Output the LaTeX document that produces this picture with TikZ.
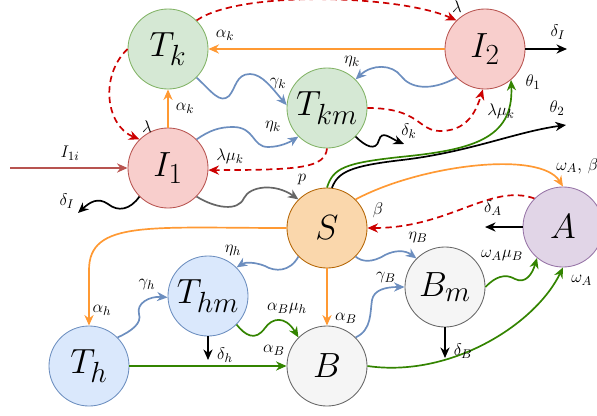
\documentclass[tikz,border=0pt]{standalone}
\usetikzlibrary{arrows.meta}
\definecolor{gFill}{HTML}{D5E8D4}\definecolor{gLine}{HTML}{82B366}
\definecolor{rFill}{HTML}{F8CECC}\definecolor{rLine}{HTML}{B85450}
\definecolor{oFill}{HTML}{FAD7AC}\definecolor{oLine}{HTML}{B46504}
\definecolor{pFill}{HTML}{E1D5E7}\definecolor{pLine}{HTML}{9673A6}
\definecolor{bFill}{HTML}{DAE8FC}\definecolor{bLine}{HTML}{6C8EBF}
\definecolor{wFill}{HTML}{F5F5F5}\definecolor{wLine}{HTML}{666666}
\definecolor{orangeC}{HTML}{FF9933}
\definecolor{blueC}{HTML}{6C8EBF}
\definecolor{greenC}{HTML}{338400}
\definecolor{redC}{HTML}{CC0000}
\definecolor{grayC}{HTML}{666666}
\begin{document}
\begin{tikzpicture}[x=0.025cm, y=-0.025cm,
  st/.style={circle, minimum size=2cm, inner sep=0pt, line width=0.6pt, font=\Huge},
  gN/.style={st, fill=gFill, draw=gLine},
  rN/.style={st, fill=rFill, draw=rLine},
  oN/.style={st, fill=oFill, draw=oLine},
  pN/.style={st, fill=pFill, draw=pLine},
  bN/.style={st, fill=bFill, draw=bLine},
  wN/.style={st, fill=wFill, draw=wLine},
  lbl/.style={font=\fontsize{13}{15}\selectfont, inner sep=0pt},
  ar/.style={-{Stealth[length=7.5pt,width=6.5pt,inset=2.4pt]}, line width=1.2pt},
  oE/.style={ar, draw=orangeC},
  bE/.style={ar, draw=blueC},
  gE/.style={ar, draw=greenC},
  rE/.style={ar, draw=redC, dash pattern=on 4.5pt off 3pt},
  kE/.style={ar, draw=black},
  grE/.style={ar, draw=grayC},
  iE/.style={ar, draw=rLine},
]
\useasboundingbox (0,0) rectangle (597,415);

% nodes
\node[gN] (Tk)  at (168,49)  {$T_k$};
\node[rN] (I1)  at (168,168) {$I_1$};
\node[rN] (I2)  at (485,49)  {$I_2$};
\node[gN] (Tkm) at (327,108) {$T_{km}$};
\node[oN] (S)   at (327,228) {$S$};
\node[pN] (A)   at (563,227) {$A$};
\node[bN] (Th)  at (89,366)  {$T_h$};
\node[bN] (Thm) at (208,296) {$T_{hm}$};
\node[wN] (B)   at (327,366) {$B$};
\node[wN] (Bm)  at (445,287) {$B_m$};

% free ends
\coordinate (in1) at (10,168);
\coordinate (dI2) at (567,49);
\coordinate (dk)  at (404,144);
\coordinate (th2) at (566,125);
\coordinate (dA)  at (485,227);
\coordinate (dh)  at (208,360);
\coordinate (dBm) at (445,358);
\coordinate (dI1) at (78,213);

% edges
\draw[oE] (I2.west) -- (Tk.east);
\draw[oE] (I1.north) -- (Tk.south);
\draw[rE] (Tk.west) .. controls (100,75) and (105,125) .. (I1.135);
\draw[rE] (Tk.45) .. controls (240,-10) and (400,-5) .. (I2.135);
\draw[bE] (Tk.-45) .. controls (212,92) and (220,104) .. (229,96)
          .. controls (236,88) and (236,74) .. (250,74)
          .. controls (262,74) and (272,88) .. (Tkm.176);
\draw[bE] (I1.45) .. controls (210,130) and (220,127) .. (233,127)
          .. controls (255,127) and (252,147) .. (268,147)
          .. controls (280,147) and (290,142) .. (Tkm.-135);
\draw[rE] (Tkm.south) .. controls (325,168) and (300,170) .. (I1.-3);
\draw[rE] (Tkm.east) .. controls (420,108) and (418,131) .. (440,131)
          .. controls (465,131) and (475,115) .. (I2.-93);
\draw[bE] (I2.225) .. controls (430,92) and (410,88) .. (401,76)
          .. controls (392,64) and (372,64) .. (Tkm.45);
\draw[kE] (I2.east) -- (dI2);
\draw[kE] (Tkm.-45) .. controls (365,146) and (376,152) .. (379,140)
          .. controls (382,130) and (390,138) .. (dk);
\draw[gE] (S.north) .. controls (333,168) and (345,163) .. (400,157)
          .. controls (470,150) and (514,140) .. (I2.-50);
\draw[kE] (S.83) .. controls (338,172) and (350,166) .. (402,160)
          .. controls (470,152) and (515,132) .. (th2);
\draw[oE] (S.45) .. controls (420,165) and (540,150) .. (A.north);
\draw[rE] (A.135) .. controls (490,183) and (450,228) .. (S.east);
\draw[kE] (A.west) -- (dA);
\draw[oE] (S.west) .. controls (150,228) and (89,220) .. (89,270) -- (Th.north);
\draw[bE] (S.225) .. controls (290,272) and (275,272) .. (265,266)
          .. controls (255,262) and (245,262) .. (Thm.45);
\draw[bE] (Th.45) .. controls (132,331) and (142,323) .. (139,314)
          .. controls (136,303) and (150,296) .. (Thm.182);
\draw[gE] (Thm.-45) .. controls (245,335) and (255,342) .. (265,328)
          .. controls (272,318) and (285,315) .. (B.135);
\draw[kE] (Thm.south) -- (dh);
\draw[gE] (Th.east) -- (B.west);
\draw[oE] (S.south) -- (B.north);
\draw[bE] (S.-45) .. controls (362,262) and (372,263) .. (385,255)
          .. controls (395,250) and (405,250) .. (Bm.135);
\draw[bE] (B.45) .. controls (372,330) and (370,312) .. (372,300)
          .. controls (374,290) and (385,287) .. (Bm.west);
\draw[kE] (Bm.south) -- (dBm);
\draw[gE] (Bm.east) .. controls (495,277) and (505,273) .. (515,279)
          .. controls (525,284) and (532,275) .. (A.-130);
\draw[gE] (B.east) .. controls (450,378) and (535,325) .. (A.south);
\draw[grE] (I1.-45) .. controls (215,208) and (238,212) .. (244,198)
          .. controls (250,186) and (275,183) .. (S.135);
\draw[kE] (I1.225) .. controls (130,210) and (118,212) .. (108,204)
          .. controls (98,197) and (90,202) .. (dI1);
\draw[iE] (in1) -- (I1.west);

% labels
\node[lbl] (l1)  at (225,35)  {$\alpha_k$};
\node[lbl] (l2)  at (185,108) {$\alpha_k$};
\node[lbl] (l3)  at (147,127) {$\lambda$};
\node[lbl] (l4)  at (457,7)   {$\lambda$};
\node[lbl] (l5)  at (278,84)  {$\gamma_k$};
\node[lbl] (l6)  at (273,127) {$\eta_k$};
\node[lbl] (l7)  at (230,156) {$\lambda\mu_k$};
\node[lbl] (l8)  at (501,111) {$\lambda\mu_k$};
\node[lbl] (l9)  at (352,62)  {$\eta_k$};
\node[lbl] (l10) at (558,32)  {$\delta_I$};
\node[lbl] (l11) at (409,131) {$\delta_k$};
\node[lbl] (l12) at (533,82)  {$\theta_1$};
\node[lbl] (l13) at (557,108) {$\theta_2$};
\node[lbl, anchor=west] (l14) at (556,166) {$\omega_A$, $\beta$};
\node[lbl] (l15) at (378,210) {$\beta$};
\node[lbl] (l16) at (493,208) {$\delta_A$};
\node[lbl] (l17) at (102,310) {$\alpha_h$};
\node[lbl] (l18) at (233,251) {$\eta_h$};
\node[lbl] (l19) at (147,285) {$\gamma_h$};
\node[lbl] (l20) at (287,309) {$\alpha_B\mu_h$};
\node[lbl] (l21) at (225,355) {$\delta_h$};
\node[lbl] (l22) at (274,350) {$\alpha_B$};
\node[lbl] (l23) at (346,318) {$\alpha_B$};
\node[lbl] (l24) at (418,238) {$\eta_B$};
\node[lbl] (l25) at (386,278) {$\gamma_B$};
\node[lbl] (l26) at (502,256) {$\omega_A\mu_B$};
\node[lbl, anchor=west] (l27) at (571,280) {$\omega_A$};
\node[lbl] (l28) at (302,180) {$p$};
\node[lbl] (l29) at (67,201)  {$\delta_I$};
\node[lbl] (l30) at (70,153)  {$I_{1i}$};
\node[lbl] (l31) at (463,351) {$\delta_B$};
\end{tikzpicture}
\end{document}
